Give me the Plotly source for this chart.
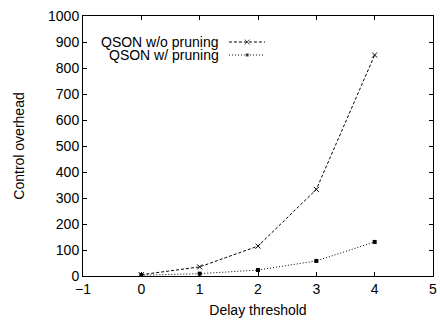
import plotly.graph_objects as go

delay = [0, 1, 2, 3, 4]
wo_pruning = [5, 35, 115, 333, 850]
w_pruning = [3, 9, 23, 58, 131]
names = ["QSON w/o pruning", "QSON w/ pruning"]
x_ticks = [-1, 0, 1, 2, 3, 4, 5]
y_ticks = [0, 100, 200, 300, 400, 500, 600, 700, 800, 900, 1000]

FONT = "Liberation Sans, Arial, sans-serif"
FS = 14
fig = go.Figure()
fig.add_trace(go.Scatter(x=delay, y=wo_pruning, mode="lines+markers", name=names[0],
                         line=dict(color="black", width=1, dash="3px,2px"),
                         marker=dict(symbol="x-thin", size=5, color="black", line=dict(width=1, color="black")),
                         showlegend=False))
fig.add_trace(go.Scatter(x=delay, y=w_pruning, mode="lines+markers", name=names[1],
                         line=dict(color="black", width=1, dash="1px,2px"),
                         marker=dict(symbol="square", size=4, color="black"),
                         showlegend=False))

# manual gnuplot-style legend (text left of sample)
leg_y = [0.9, 0.85]
styles = [(dict(dash="3px,2px"), dict(symbol="x-thin", size=5, color="black", line=dict(width=1, color="black"))),
          (dict(dash="1px,2px"), dict(symbol="square", size=4, color="black"))]
for nm, ly, (ls, ms) in zip(names, leg_y, styles):
    fig.add_trace(go.Scatter(x=[0.417, 0.469, 0.52], y=[ly, ly, ly], xaxis="x2", yaxis="y2",
                             mode="lines+markers", line=dict(color="black", width=1, **ls),
                             marker=dict(ms, size=[0, ms["size"], 0]), showlegend=False, hoverinfo="skip"))
    fig.add_annotation(text=nm, x=0.39, y=ly, xref="paper", yref="paper", xanchor="right",
                       yanchor="middle", showarrow=False, borderpad=0,
                       font=dict(family=FONT, size=FS, color="black"))

axis_common = dict(showgrid=False, zeroline=False, showline=True, linecolor="black", linewidth=1,
                   mirror="allticks", ticks="inside", ticklen=4, tickcolor="black", automargin=False,
                   tickfont=dict(family=FONT, size=FS, color="black"))
fig.update_layout(
    width=440, height=320,
    margin=dict(l=83, r=7, t=16, b=44),
    paper_bgcolor="white", plot_bgcolor="white",
    xaxis=dict(range=[-1, 5], tickvals=x_ticks, title=dict(text="Delay threshold", standoff=9,
               font=dict(family=FONT, size=FS, color="black")), **axis_common),
    yaxis=dict(range=[0, 1000], tickvals=y_ticks, title=dict(text="Control overhead", standoff=20,
               font=dict(family=FONT, size=FS, color="black")), **axis_common),
    xaxis2=dict(range=[0, 1], overlaying="x", visible=False),
    yaxis2=dict(range=[0, 1], overlaying="y", visible=False),
)
fig.write_html("out.html", config={"displayModeBar": False},
               post_script="document.body.style.margin='0px';document.body.style.overflow='hidden';")
